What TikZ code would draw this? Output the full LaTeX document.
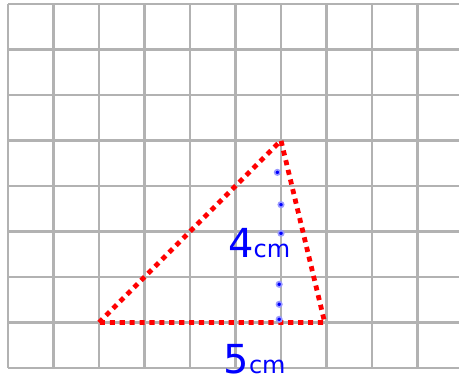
\documentclass[tikz,border=0pt]{standalone}
\usepackage{fontspec}
\setsansfont{DejaVu Sans}
\usetikzlibrary{calc}

\newcommand{\bigdigit}[1]{{\fontsize{25}{25}\selectfont #1}}
\newcommand{\smallunit}[1]{{\fontsize{15}{15}\selectfont #1}}

\begin{document}
\begin{tikzpicture}[
    grid_line/.style={draw=gray!60, line width=1.3pt},
    red_dots/.style={draw=red, line width=3pt, dash pattern=on 3.2pt off 3pt},
    blue_dot/.style={fill=blue, draw=blue!40, line width=1pt},
    hand_label/.style={text=blue, font=\sffamily, inner sep=0pt, anchor=base}
]
\useasboundingbox (-0.176,-0.374) rectangle (9.912,8.088);
\foreach \x in {0,...,9} {\draw[grid_line] (\x,0) -- (\x,8);}
\foreach \y in {0,...,8} {\draw[grid_line] (0,\y) -- (9.912,\y);}

\coordinate (base_left) at (2,1);
\coordinate (base_right) at (6.96,1);
\coordinate (apex) at (6,5);
\coordinate (foot) at (6,1);

\draw[red_dots] (base_left) -- (apex) -- (base_right) -- cycle;

\foreach \h/\dx in {0.07/-0.04, 0.4/-0.04, 0.84/-0.04, 1.96/0, 2.59/0, 3.3/-0.08} {\fill[blue_dot] ($(foot)+(\dx,\h)$) circle (1.7pt);}

\node (height_label) [hand_label] at (5.52,2.42) {\bigdigit{4}\smallunit{cm}};
\node (base_label) [hand_label] at (5.42,-0.12) {\bigdigit{5}\smallunit{cm}};
\end{tikzpicture}
\end{document}
